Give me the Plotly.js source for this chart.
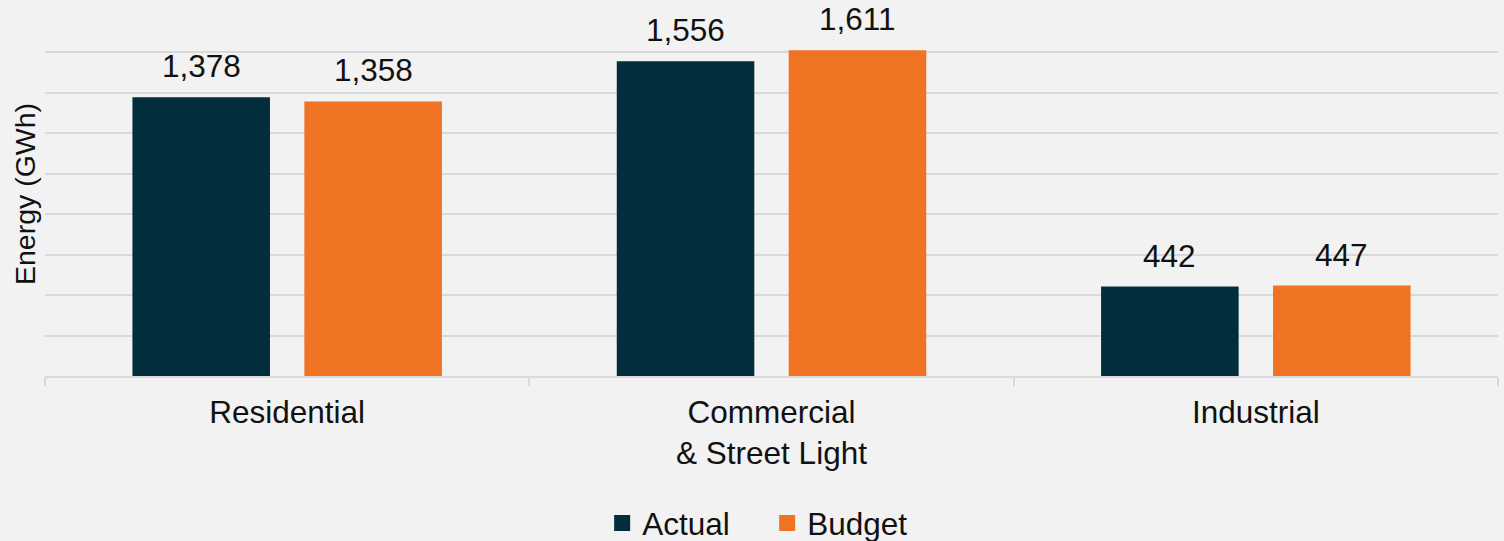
<!DOCTYPE html>
<html><head><meta charset="utf-8">
<script src="https://cdn.plot.ly/plotly-3.0.1.min.js"></script>
<style>html,body{margin:0;padding:0;background:#f2f2f2;}#chart{width:1504px;height:541px;}</style>
</head><body><div id="chart"></div>
<script>
const categories = ["Residential", "Commercial<br>& Street Light", "Industrial"];
const actual = [1378, 1556, 442];
const budget = [1358, 1611, 447];
const seriesNames = ["Actual", "Budget"];
const colors = ["#022d3d", "#f07324"];

const font = {family: "Liberation Sans, Arial, sans-serif", color: "#111111"};
const big = 31.5;

const traces = [
  {type: "bar", name: seriesNames[0], x: categories, y: actual, marker: {color: colors[0]}, showlegend: false, hoverinfo: "none"},
  {type: "bar", name: seriesNames[1], x: categories, y: budget, marker: {color: colors[1]}, showlegend: false, hoverinfo: "none"},
  {type: "scatter", mode: "markers", name: seriesNames[0], x: [null], y: [null], marker: {symbol: "square", size: 16, color: colors[0]}},
  {type: "scatter", mode: "markers", name: seriesNames[1], x: [null], y: [null], marker: {symbol: "square", size: 16, color: colors[1]}}
];

const annotations = [];
[actual, budget].forEach((vals, s) => {
  vals.forEach((v, i) => {
    annotations.push({
      x: categories[i], y: v, xref: "x", yref: "y",
      text: v.toLocaleString("en-US"), showarrow: false,
      yanchor: "bottom", xanchor: "center",
      xshift: s === 0 ? -86 : 86, yshift: 11,
      font: Object.assign({}, font, {size: big})
    });
  });
});

const layout = {
  width: 1504, height: 541,
  paper_bgcolor: "#f2f2f2", plot_bgcolor: "#f2f2f2",
  margin: {l: 45, r: 6, t: 12, b: 165},
  font: font,
  barmode: "group", bargap: 0.29, bargroupgap: 0.2,
  xaxis: {
    type: "category", tickson: "boundaries", ticks: "outside", ticklen: 8, tickcolor: "#d9d9d9", tickwidth: 2,
    showline: true, linecolor: "#d9d9d9", linewidth: 2, showgrid: false,
    tickfont: Object.assign({}, font, {size: big}), ticklabelstandoff: 7, automargin: false
  },
  yaxis: {
    range: [0, 1800], dtick: 200, showticklabels: false, showgrid: true, gridcolor: "#d9d9d9", gridwidth: 2,
    zeroline: false, showline: false, automargin: false,
    title: {text: "Energy (GWh)", font: Object.assign({}, font, {size: 28.5}), standoff: 0}
  },
  legend: {orientation: "h", x: 0.497, xanchor: "center", xref: "paper", y: 0.033, yanchor: "middle", yref: "container",
    font: Object.assign({}, font, {size: big}), bgcolor: "rgba(0,0,0,0)", itemwidth: 30,
    entrywidth: 120, tracegroupgap: 0},
  annotations: annotations,
  showlegend: true
};

Plotly.newPlot("chart", traces, layout, {displayModeBar: false, staticPlot: true});
</script>
</body></html>
